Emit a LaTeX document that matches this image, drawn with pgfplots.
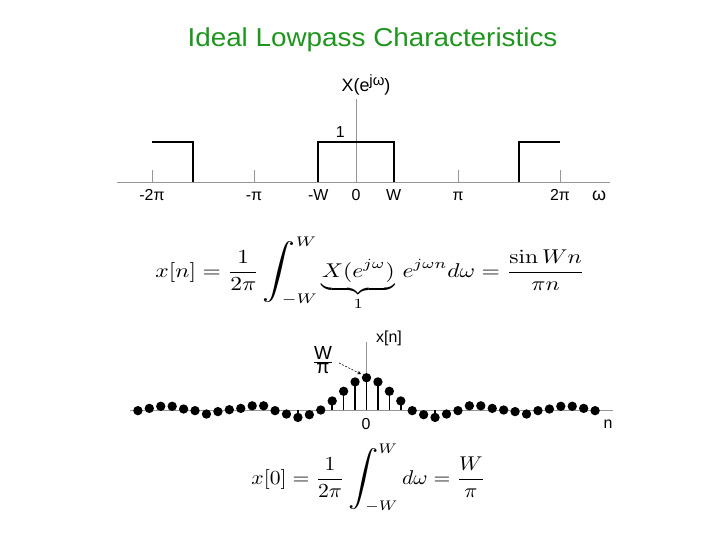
\documentclass[border=0pt]{standalone}
\usepackage{pgfplots}
\pgfplotsset{compat=1.18}
\usepackage{amsmath}
\usepackage[no-math]{fontspec}
\setmainfont{Liberation Sans}
\definecolor{titlegreen}{RGB}{30,150,30}
\definecolor{axgray}{RGB}{150,150,150}
\newcommand{\bigint}{\mathop{\vcenter{\hbox{\scalebox{1.4}[1.38]{$\displaystyle\int$}}}}\nolimits}

\pgfplotstableread{
n y
-20 -0.02
-19 0.05
-18 0.115
-17 0.115
-16 0.03
-15 -0.02
-14 -0.125
-13 -0.05
-12 0.01
-11 0.05
-10 0.13
-9 0.13
-8 -0.02
-7 -0.125
-6 -0.23
-5 -0.145
-4 0.00
-3 0.28
-2 0.58
-1 0.87
0 1.00
1 0.87
2 0.58
3 0.28
4 -0.02
5 -0.145
6 -0.23
7 -0.125
8 -0.02
9 0.13
10 0.13
11 0.05
12 0.00
13 -0.05
14 -0.125
15 -0.02
16 0.03
17 0.115
18 0.115
19 0.05
20 -0.02
}\stemdata

\begin{document}
\begin{tikzpicture}
\useasboundingbox (0,0) rectangle (720bp,-540bp);
\node[text=titlegreen, font=\fontsize{26}{30}\selectfont, inner sep=0pt, xscale=1.075] at (372.5bp,-40bp) {Ideal Lowpass Characteristics};

% ---------- spectrum ----------
\begin{axis}[
  at={(356bp,-182bp)}, anchor=origin,
  scale only axis, width=493bp, height=83.2bp,
  xmin=-2.343, xmax=2.490, ymin=0, ymax=2.08,
  axis x line=middle, axis y line=middle,
  axis line style={axgray, line width=0.6bp, -},
  clip=false,
  hide obscured x ticks=false,
  xtick={-2,-1,-0.37,0,0.37,1,2},
  xticklabels={-2π,-π,-W,0,W,π,2π},
  xtick align=inside,
  major tick length=12bp,
  xtick style={axgray, line width=0.6bp},
  ytick={1}, yticklabels={1}, ytick style={draw=none},
  xticklabel style={font=\fontsize{16}{18}\selectfont, anchor=base, inner sep=0pt, yshift=-18bp},
  yticklabel style={font=\fontsize{16}{18}\selectfont, anchor=south east, inner sep=0pt, xshift=-5bp, yshift=4bp},
]
\addplot[black, line width=1.8bp] coordinates {(-0.37,0) (-0.37,1) (0.37,1) (0.37,0)};
\addplot[black, line width=1.8bp] coordinates {(-2,1) (-1.595,1) (-1.595,0)};
\addplot[black, line width=1.8bp] coordinates {(1.595,0) (1.595,1) (2,1)};
\end{axis}
\node[anchor=base, inner sep=0pt, font=\fontsize{18}{20}\selectfont] at (366bp,-91bp) {X(e\raisebox{6bp}{\fontsize{15}{17}\selectfont jω})};
\node[anchor=base, inner sep=0pt, font=\fontsize{18}{20}\selectfont] at (599bp,-200bp) {ω};

% ---------- equation 1 ----------
\node[anchor=base west, inner sep=0pt, xscale=2.36, yscale=2.0] at (155bp,-277bp)
  {$\displaystyle x[n] = \frac{1}{2\pi}\bigint_{\kern-0.6em -W}^{W}\underbrace{X(e^{j\omega})}_{1}\,e^{j\omega n}d\omega = \frac{\sin Wn}{\pi n}$};

% ---------- stem plot ----------
\begin{axis}[
  at={(366.5bp,-410bp)}, anchor=origin,
  scale only axis, width=483.5bp, height=67.8bp,
  xmin=-20.7, xmax=21.6, ymin=0, ymax=2.1,
  axis x line=middle, axis y line=middle,
  axis line style={axgray, line width=0.6bp, -},
  xtick=\empty, ytick=\empty, clip=false,
]
\addplot[ycomb, black, line width=1.6bp, mark=*, mark size=3.8bp, mark options={fill=black}] table[x=n, y=y] {\stemdata};
\end{axis}
\node[anchor=west, inner sep=0pt, font=\fontsize{16}{18}\selectfont] at (376bp,-338bp) {x[n]};
\node[inner sep=0pt, font=\fontsize{16}{18}\selectfont] at (366bp,-424bp) {0};
\node[inner sep=0pt, font=\fontsize{16}{18}\selectfont] at (608bp,-424bp) {n};
\node[inner sep=0pt, font=\fontsize{19}{21}\selectfont] at (323bp,-360bp) {$\frac{\mbox{W}}{\mbox{π}}$};
\draw[dashed, dash pattern=on 2bp off 1.5bp, line width=0.6bp, -stealth] (339bp,-363bp) -- (361bp,-374bp);

% ---------- equation 2 ----------
\node[anchor=base west, inner sep=0pt, xscale=2.17, yscale=2.0] at (251bp,-484bp)
  {$\displaystyle x[0] = \frac{1}{2\pi}\bigint_{\kern-0.6em -W}^{W} d\omega = \frac{W}{\pi}$};
\end{tikzpicture}
\end{document}
